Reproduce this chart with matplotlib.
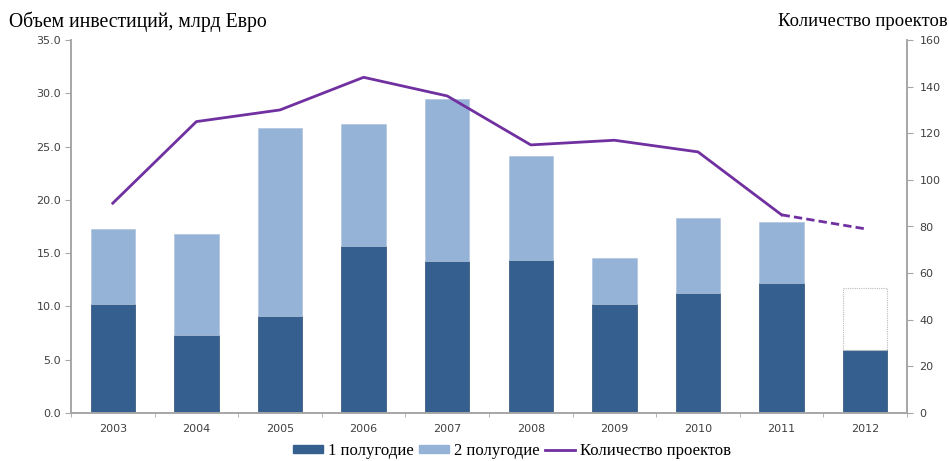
import numpy as np
import matplotlib.pyplot as plt
from matplotlib.lines import Line2D
from matplotlib.patches import Patch

years = ['2003', '2004', '2005', '2006', '2007', '2008', '2009', '2010', '2011', '2012']
half1 = [10.2, 7.3, 9.1, 15.7, 14.3, 14.4, 10.2, 11.3, 12.2, 5.9]
half2 = [7.1, 9.5, 17.6, 11.4, 15.2, 9.7, 4.3, 7.0, 5.7, 5.8]  # 2012 = forecast (empty)
projects = [90, 125, 130, 144, 136, 115, 117, 112, 85, 79]

dark = '#355F8F'
light = '#95B3D7'
purple = '#7030A0'
axis_gray = '#A6A6A6'
label_gray = '#404040'

fig = plt.figure(figsize=(9.49, 4.61), dpi=100)
ax = fig.add_axes([71 / 949, 1 - 413 / 461, 836 / 949, 373 / 461])

x = np.arange(len(years))
w = 0.53
ax.bar(x, half1, w, color=dark, edgecolor='#2B4E75', linewidth=0.5, zorder=2)
ax.bar(x[:-1], half2[:-1], w, bottom=half1[:-1], color=light,
       edgecolor='#B0C4DE', linewidth=0.5, zorder=2)
ax.bar(x[-1:], half2[-1:], w, bottom=half1[-1:], color='white',
       edgecolor='#BBBBBB', linewidth=0.8, linestyle=(0, (1, 1)), zorder=2)

ax.set_xlim(-0.5, len(years) - 0.5)
ax.set_ylim(0, 35)
ax.set_yticks(np.arange(0, 35.1, 5))
ax.set_yticklabels([f'{v:.1f}' for v in np.arange(0, 35.1, 5)])
ax.set_xticks(x)
ax.set_xticklabels(years)
ax.set_xticks(np.arange(-0.5, len(years)), minor=True)
ax.tick_params(axis='x', which='major', length=0, pad=8)
ax.tick_params(axis='x', which='minor', length=3, color=axis_gray)
ax.tick_params(axis='y', length=4, color=axis_gray, pad=3)
ax.tick_params(labelsize=8, labelcolor=label_gray)

ax2 = ax.twinx()
ax2.set_ylim(0, 160)
ax2.set_yticks(np.arange(0, 161, 20))
ax2.tick_params(axis='y', length=4, color=axis_gray, labelsize=8,
                labelcolor=label_gray, pad=5)
ax2.plot(x[:-1], projects[:-1], color=purple, lw=2, zorder=3)
ax2.plot(x[-2:], projects[-2:], color=purple, lw=2, ls=(0, (3, 1.5)), zorder=3)

for a in (ax, ax2):
    a.spines['top'].set_visible(False)
    for s in ('left', 'right', 'bottom'):
        a.spines[s].set_color(axis_gray)
        a.spines[s].set_linewidth(1.2)

serif = 'Liberation Serif'
fig.text(9 / 949, 1 - 22 / 461, 'Объем инвестиций, млрд Евро', family=serif,
         fontsize=14.2, va='center', ha='left')
fig.text(948 / 949, 1 - 22 / 461, 'Количество проектов', family=serif,
         fontsize=13.4, va='center', ha='right')

handles = [Patch(color=dark), Patch(color=light), Line2D([], [], color=purple, lw=2)]
labels = ['1 полугодие', '2 полугодие', 'Количество проектов']
fig.legend(handles, labels, loc='center', bbox_to_anchor=(512 / 949, 1 - 451 / 461),
           ncol=3, frameon=False, prop={'family': serif, 'size': 12},
           handlelength=1.8, handleheight=0.35, handletextpad=0.3, columnspacing=0.3)

fig.savefig('out.png', dpi=100)
